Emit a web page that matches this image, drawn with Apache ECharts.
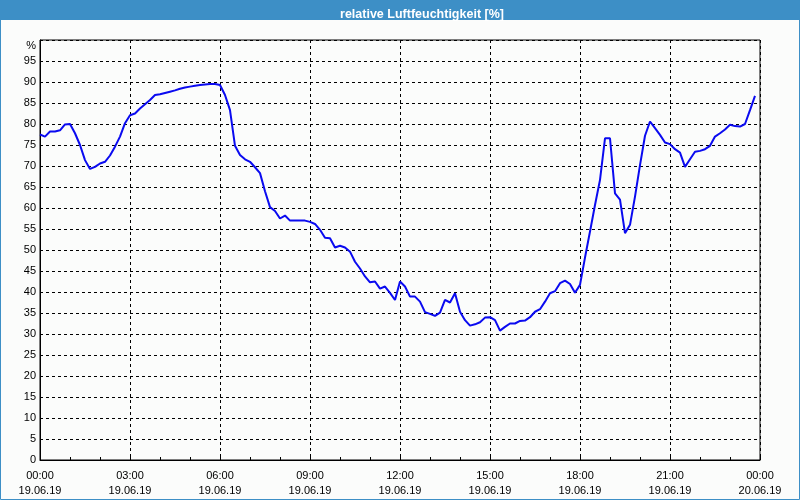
<!DOCTYPE html>
<html>
<head>
<meta charset="utf-8">
<script src="https://cdn.jsdelivr.net/npm/echarts@6/dist/echarts.min.js"></script>
<style>
html,body{margin:0;padding:0;background:#fbfcfb;}
#chart{width:800px;height:500px;}
</style>
</head>
<body>
<div id="chart"></div>
<script>
// Relative humidity readings, every 10 minutes from 19.06.19 00:00
var humidity = [
  77.5, 77.0, 78.2, 78.2, 78.5, 79.9, 80.0, 77.8, 75.0, 71.4, 69.3, 69.8,
  70.6, 71.0, 72.5, 74.6, 77.0, 80.2, 82.1, 82.5, 83.7, 84.7, 85.7, 86.9,
  87.1, 87.4, 87.7, 88.0, 88.4, 88.7, 88.9, 89.1, 89.3, 89.4, 89.5, 89.5,
  89.3, 86.9, 83.3, 74.8, 72.6, 71.6, 71.0, 69.7, 68.3, 64.0, 60.2, 59.3,
  57.5, 58.2, 57.0, 57.0, 57.0, 57.0, 56.7, 56.2, 54.8, 52.9, 52.8, 50.6,
  51.0, 50.6, 49.6, 47.2, 45.6, 43.7, 42.3, 42.5, 40.8, 41.3, 39.8, 38.1,
  42.5, 41.3, 38.9, 38.9, 37.7, 35.2, 34.8, 34.3, 35.1, 38.1, 37.5, 39.7,
  35.3, 33.3, 32.0, 32.3, 32.8, 33.9, 34.0, 33.3, 30.8, 31.7, 32.5, 32.5,
  33.1, 33.2, 34.0, 35.3, 35.9, 37.7, 39.7, 40.2, 42.1, 42.7, 41.9, 39.8,
  41.7, 48.2, 54.4, 60.7, 66.7, 76.6, 76.6, 63.5, 62.0, 54.0, 56.0, 62.7,
  70.2, 77.2, 80.6, 79.0, 77.4, 75.6, 75.2, 74.0, 73.2, 69.8, 71.6, 73.4,
  73.6, 74.0, 74.8, 77.0, 77.8, 78.7, 79.8, 79.5, 79.4, 80.0, 83.3, 86.7
];
var sampleMinutes = 10;
var xTickLabels = ['00:00\n19.06.19','03:00\n19.06.19','06:00\n19.06.19','09:00\n19.06.19',
  '12:00\n19.06.19','15:00\n19.06.19','18:00\n19.06.19','21:00\n19.06.19','00:00\n20.06.19'];
var titleText = 'relative Luftfeuchtigkeit [%]';
var yUnit = '%';

var seriesData = humidity.map(function (v, i) { return [i * sampleMinutes / 60, v]; });

var chart = echarts.init(document.getElementById('chart'), null, {renderer: 'canvas'});
var FONT = 'Liberation Sans';
chart.setOption({
  animation: false,
  backgroundColor: '#fbfcfb',
  title: {
    text: titleText,
    left: 417, top: 3, textAlign: 'center',
    textStyle: {color: '#ffffff', fontFamily: FONT, fontWeight: 'bold', fontSize: 12.5}
  },
  graphic: [
    {type: 'rect', z: -1, shape: {x: 0, y: 0, width: 800, height: 20}, style: {fill: '#3d8fc6'}},
    {type: 'rect', z: -1, shape: {x: 0.5, y: 0.5, width: 799, height: 499}, style: {fill: null, stroke: '#3d8fc6', lineWidth: 1}}
  ],
  grid: {left: 40, right: 40, top: 40, bottom: 40, show: true, borderColor: '#000', borderWidth: 1, backgroundColor: 'transparent'},
  xAxis: {
    type: 'value', min: 0, max: 24, interval: 3,
    axisLine: {show: true, lineStyle: {color: '#000', width: 1}},
    axisTick: {show: true, inside: true, length: 3, lineStyle: {color: '#000'}},
    minorTick: {show: true, splitNumber: 3, length: 3, lineStyle: {color: '#000'}},
    splitLine: {show: true, lineStyle: {color: '#000', type: [3, 3], width: 1}},
    axisLabel: {
      color: '#000', fontFamily: FONT, fontSize: 11, lineHeight: 15, margin: 8,
      formatter: function (v) { return xTickLabels[Math.round(v / 3)]; }
    }
  },
  yAxis: {
    type: 'value', min: 0, max: 100, interval: 5,
    name: yUnit, nameLocation: 'end', nameGap: -6,
    nameTextStyle: {color: '#000', fontFamily: FONT, fontSize: 11, align: 'right', verticalAlign: 'middle', padding: [0, 4, 0, 0]},
    axisLine: {show: true, lineStyle: {color: '#000', width: 1}},
    axisTick: {show: false},
    splitLine: {show: true, lineStyle: {color: '#000', type: [3, 3], width: 1}},
    axisLabel: {
      color: '#000', fontFamily: FONT, fontSize: 11, margin: 4,
      formatter: function (v) { return v === 100 ? '' : String(v); }
    }
  },
  series: [{
    type: 'line', data: seriesData, showSymbol: false, symbol: 'none',
    lineStyle: {color: '#0a0af0', width: 2}, z: 3
  }]
});
</script>
</body>
</html>
